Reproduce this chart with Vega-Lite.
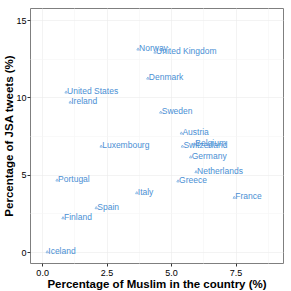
{
  "$schema": "https://vega.github.io/schema/vega-lite/v6.json",
  "width": 253,
  "height": 255,
  "autosize": "none",
  "padding": {"left": 30, "top": 8, "right": 8, "bottom": 28},
  "background": "white",
  "config": {
    "view": {"stroke": "#7f7f7f", "strokeWidth": 1},
    "axis": {
      "labelFont": "Liberation Sans", "labelFontSize": 9, "labelColor": "#000000",
      "titleFont": "Liberation Sans", "titleFontSize": 11.5, "titleFontWeight": "bold", "titleColor": "#000000",
      "domain": false, "tickColor": "#333333", "tickSize": 3,
      "gridColor": "#ebebeb", "gridWidth": 0.6
    }
  },
  "data": {
    "values": [
      {"country": "Norway", "muslim": 3.72, "jsa": 13.13},
      {"country": "United Kingdom", "muslim": 4.38, "jsa": 12.93},
      {"country": "Denmark", "muslim": 4.1, "jsa": 11.25},
      {"country": "United States", "muslim": 0.93, "jsa": 10.35},
      {"country": "Ireland", "muslim": 1.09, "jsa": 9.7},
      {"country": "Sweden", "muslim": 4.6, "jsa": 9.05},
      {"country": "Austria", "muslim": 5.4, "jsa": 7.7},
      {"country": "Luxembourg", "muslim": 2.29, "jsa": 6.85},
      {"country": "Switzerland", "muslim": 5.44, "jsa": 6.85},
      {"country": "Belgium", "muslim": 5.9, "jsa": 7.0},
      {"country": "Germany", "muslim": 5.76, "jsa": 6.16},
      {"country": "Netherlands", "muslim": 5.97, "jsa": 5.2},
      {"country": "Greece", "muslim": 5.27, "jsa": 4.6},
      {"country": "Italy", "muslim": 3.67, "jsa": 3.84},
      {"country": "France", "muslim": 7.45, "jsa": 3.54},
      {"country": "Portugal", "muslim": 0.58, "jsa": 4.66},
      {"country": "Spain", "muslim": 2.1, "jsa": 2.87},
      {"country": "Finland", "muslim": 0.81, "jsa": 2.22},
      {"country": "Iceland", "muslim": 0.2, "jsa": 0.02}
    ]
  },
  "encoding": {
    "x": {
      "field": "muslim", "type": "quantitative",
      "scale": {"domain": [-0.47, 9.34], "nice": false, "zero": false},
      "axis": {
        "title": "Percentage of Muslim in the country (%)",
        "values": [0, 1.25, 2.5, 3.75, 5, 6.25, 7.5, 8.75],
        "labelExpr": "datum.value % 2.5 === 0 ? format(datum.value, '.1f') : ''",
        "tickOpacity": {"condition": {"test": "datum.value % 2.5 !== 0", "value": 0}, "value": 1},
        "gridColor": {"condition": {"test": "datum.value % 2.5 !== 0", "value": "#f5f5f5"}, "value": "#ebebeb"},
        "titlePadding": 1, "labelPadding": 2
      }
    },
    "y": {
      "field": "jsa", "type": "quantitative",
      "scale": {"domain": [-0.71, 15.78], "nice": false, "zero": false},
      "axis": {
        "title": "Percentage of JSA tweets (%)",
        "values": [0, 2.5, 5, 7.5, 10, 12.5, 15],
        "labelExpr": "datum.value % 5 === 0 ? format(datum.value, 'd') : ''",
        "tickOpacity": {"condition": {"test": "datum.value % 5 !== 0", "value": 0}, "value": 1},
        "gridColor": {"condition": {"test": "datum.value % 5 !== 0", "value": "#f5f5f5"}, "value": "#ebebeb"},
        "titlePadding": 1, "labelPadding": 1
      }
    }
  },
  "layer": [
    {"mark": {"type": "point", "shape": "triangle-up", "size": 6, "filled": false, "color": "#4a8fd4", "strokeWidth": 0.8}},
    {
      "mark": {"type": "text", "align": "left", "baseline": "middle", "dx": 1, "dy": -1, "font": "Liberation Sans", "fontSize": 8.5, "color": "#4a8fd4"},
      "encoding": {"text": {"field": "country"}}
    }
  ]
}
